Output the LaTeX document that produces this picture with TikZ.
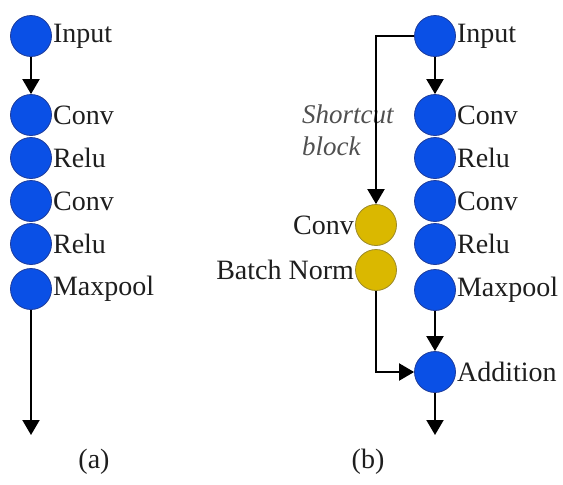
\documentclass[tikz,border=0pt]{standalone}
\usepackage{fontspec}
\setmainfont{Liberation Serif}
\usetikzlibrary{arrows.meta}
\definecolor{bluefill}{HTML}{0A50E6}
\definecolor{blueedge}{HTML}{1E3C9C}
\definecolor{yelfill}{HTML}{DAB800}
\definecolor{yeledge}{HTML}{9C8A2A}
\definecolor{txt}{HTML}{1E1E1E}
\definecolor{stxt}{HTML}{505050}
\begin{document}
\begin{tikzpicture}[x=1pt,y=1pt,
  bnode/.style={circle,draw=blueedge,fill=bluefill,line width=0.8pt,minimum size=41pt,inner sep=0pt},
  ynode/.style={circle,draw=yeledge,fill=yelfill,line width=0.8pt,minimum size=41pt,inner sep=0pt},
  lab/.style={text=txt,font=\fontsize{28}{32}\selectfont,inner sep=1pt},
  arr/.style={-{Triangle[length=15pt,width=17pt]},line width=2pt,black},
  ln/.style={line width=2pt,black}]
\useasboundingbox (0,0) rectangle (563,-485);
% column (a)
\node[bnode] (ai) at (31,-36) {};
\node[bnode] (ac1) at (31,-115) {};
\node[bnode] (ar1) at (31,-158) {};
\node[bnode] (ac2) at (31,-201) {};
\node[bnode] (ar2) at (31,-244) {};
\node[bnode] (am) at (31,-289) {};
\coordinate (aend) at (31,-435);
\node[lab,anchor=west] at (ai.east) {Input};
\node[lab,anchor=west] at (ac1.east) {Conv};
\node[lab,anchor=west] at (ar1.east) {Relu};
\node[lab,anchor=west] at (ac2.east) {Conv};
\node[lab,anchor=west] at (ar2.east) {Relu};
\node[lab,anchor=west] at (am.east) {Maxpool};
\draw[arr] (ai) -- (ac1);
\draw[arr] (am) -- (aend);
\node[lab] (la) at (94,-462) {(a)};
% column (b)
\node[bnode] (bi) at (435,-36) {};
\node[bnode] (bc1) at (435,-115) {};
\node[bnode] (br1) at (435,-158) {};
\node[bnode] (bc2) at (435,-201) {};
\node[bnode] (br2) at (435,-244) {};
\node[bnode] (bm) at (435,-290) {};
\node[bnode] (badd) at (435,-372) {};
\coordinate (bend) at (435,-435);
\node[lab,anchor=west] at (bi.east) {Input};
\node[lab,anchor=west] at (bc1.east) {Conv};
\node[lab,anchor=west] at (br1.east) {Relu};
\node[lab,anchor=west] at (bc2.east) {Conv};
\node[lab,anchor=west] at (br2.east) {Relu};
\node[lab,anchor=west] at (bm.east) {Maxpool};
\node[lab,anchor=west] at (badd.east) {Addition};
\node[ynode] (yc) at (376,-225) {};
\node[ynode] (yb) at (376,-270) {};
\node[lab,anchor=east] at (yc.west) {Conv};
\node[lab,anchor=east] at (yb.west) {Batch Norm};
\node[lab,anchor=north west,align=left,font=\fontsize{27}{32}\selectfont\itshape,text=stxt] (sb) at (301,-104) {Shortcut\\block};
\draw[arr] (bi) -- (bc1);
\draw[arr] (bm) -- (badd);
\draw[arr] (badd) -- (bend);
\draw[arr] (bi.west) -| (yc.north);
\draw[arr] (yb.south) |- (badd.west);
\node[lab] (lb) at (368,-462) {(b)};
\end{tikzpicture}
\end{document}
